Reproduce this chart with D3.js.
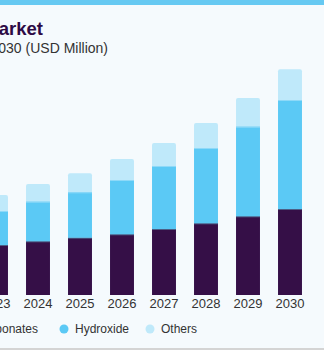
<!DOCTYPE html>
<html>
<head>
<meta charset="utf-8">
<script src="https://cdn.jsdelivr.net/npm/d3@7"></script>
<style>
  html, body { margin: 0; padding: 0; background: #f5fafd; }
  svg { display: block; font-family: "Liberation Sans", Arial, sans-serif; }
</style>
</head>
<body>
<svg id="chart" width="324" height="350"></svg>
<script>
// data (USD Million)
var years = ["2023", "2024", "2025", "2026", "2027", "2028", "2029", "2030"];
var carbonates = [500, 537, 573, 607, 660, 717, 787, 860];
var hydroxide = [340, 396, 454, 543, 630, 753, 896, 1090];
var others = [160, 177, 190, 210, 230, 250, 287, 307];
var seriesNames = ["Carbonates", "Hydroxide", "Others"];
var colors = ["#350f47", "#5bc9f5", "#bfe9fa"];

var chart = d3.select("#chart");

chart.append("rect")
  .attr("x", 0).attr("y", 0)
  .attr("width", 324).attr("height", 350)
  .style("fill", "#f5fafd");

// top band
chart.append("rect")
  .attr("x", 0).attr("y", 0)
  .attr("width", 324).attr("height", 5)
  .style("fill", "#66c9f2");

// bottom rule
chart.append("rect")
  .attr("x", 0).attr("y", 348)
  .attr("width", 324).attr("height", 2)
  .style("fill", "#d4d4d4");

// titles (left part is off the picture)
chart.append("text")
  .attr("x", 43).attr("y", 35)
  .attr("text-anchor", "end")
  .style("font-size", "18.5px")
  .style("font-weight", "bold")
  .style("fill", "#2d0a45")
  .text("Lithium Compounds Market");

chart.append("text")
  .attr("x", 108).attr("y", 53)
  .attr("text-anchor", "end")
  .style("font-size", "14px")
  .style("fill", "#333")
  .text("Size, by Product, 2018 - 2030 (USD Million)");

var x = d3.scaleBand()
  .domain(years)
  .range([-25, 311])
  .paddingInner(0.43)
  .paddingOuter(0.215);

var y = d3.scaleLinear()
  .domain([0, 2300])
  .range([295, 65]);

var rows = years.map(function(yr, i) {
  return { year: yr, Carbonates: carbonates[i], Hydroxide: hydroxide[i], Others: others[i] };
});

var stack = d3.stack().keys(seriesNames)(rows);

// others drawn full height with rounded top, rest painted over it
chart.selectAll(".oth")
  .data(stack[2])
  .enter().append("rect")
  .attr("class", "oth")
  .attr("x", function(d) { return x(d.data.year); })
  .attr("y", function(d) { return y(d[1]); })
  .attr("width", x.bandwidth())
  .attr("height", function(d) { return y(0) - y(d[1]); })
  .attr("rx", 2)
  .style("fill", colors[2]);

[0, 1].forEach(function(k) {
  chart.selectAll(".s" + k)
    .data(stack[k])
    .enter().append("rect")
    .attr("class", "s" + k)
    .attr("x", function(d) { return x(d.data.year); })
    .attr("y", function(d) { return y(d[1]); })
    .attr("width", x.bandwidth())
    .attr("height", function(d) { return y(d[0]) - y(d[1]); })
    .style("fill", colors[k]);

  // thin divider line on top of segment
  chart.selectAll(".l" + k)
    .data(stack[k])
    .enter().append("rect")
    .attr("class", "l" + k)
    .attr("x", function(d) { return x(d.data.year); })
    .attr("y", function(d) { return y(d[1]); })
    .attr("width", x.bandwidth())
    .attr("height", 1)
    .style("fill", k == 0 ? "#4b5f86" : "#8ed9f8");
});

// year labels
var xAxis = chart.append("g")
  .attr("transform", "translate(0,295)")
  .call(d3.axisBottom(x).tickSize(0).tickPadding(4));
xAxis.select(".domain").remove();
xAxis.selectAll("text")
  .style("font-size", "13px")
  .style("fill", "#333")
  .style("font-family", "\"Liberation Sans\", Arial, sans-serif");

// legend
var legendX = [-35, 64, 150];
var legend = chart.selectAll(".leg")
  .data(seriesNames)
  .enter().append("g")
  .attr("class", "leg")
  .attr("transform", function(d, i) { return "translate(" + legendX[i] + ",329)"; });

legend.append("circle")
  .attr("r", 4.5)
  .style("fill", function(d, i) { return colors[i]; });

legend.append("text")
  .attr("x", 11)
  .attr("dy", "0.35em")
  .style("font-size", "12px")
  .style("fill", "#333")
  .text(function(d) { return d; });
</script>
</body>
</html>
